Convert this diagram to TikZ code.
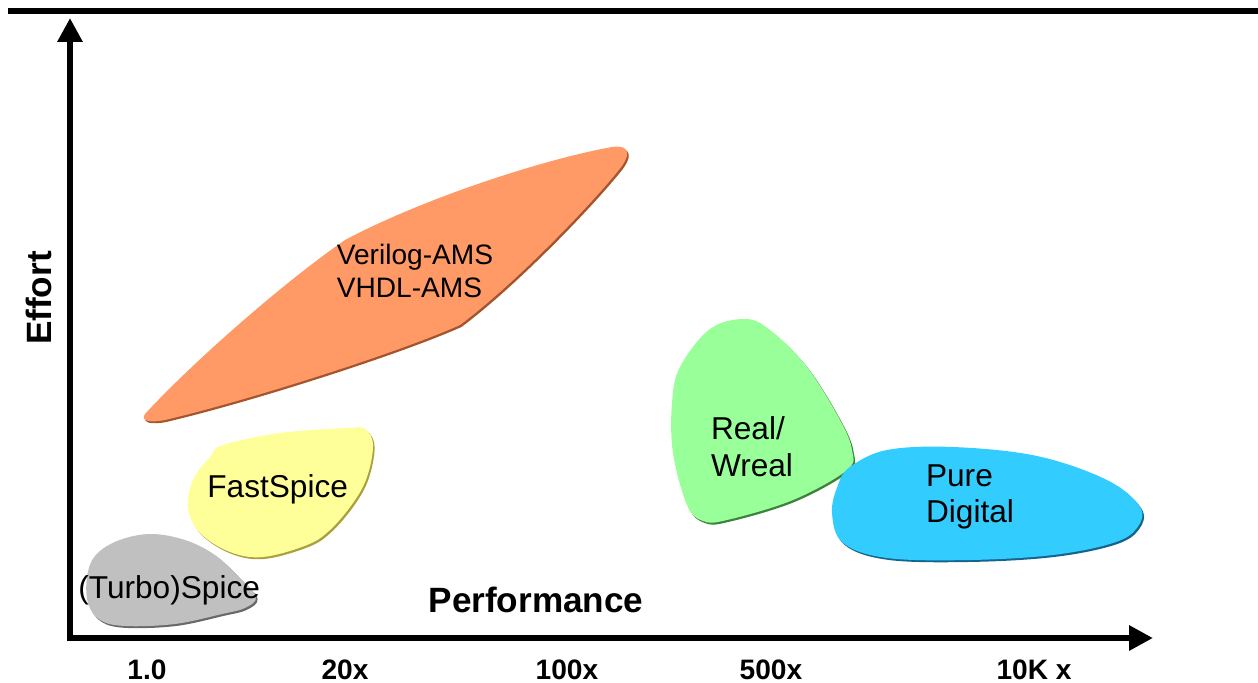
\documentclass[tikz,border=0pt]{standalone}
\usepackage{fontspec}
\setmainfont{Liberation Sans}
\usepackage{tikz}
\usetikzlibrary{arrows.meta, shadows}
\definecolor{vamsfill}{RGB}{255,153,102}
\definecolor{vamsdark}{RGB}{165,85,45}
\definecolor{fastfill}{RGB}{255,255,153}
\definecolor{fastdark}{RGB}{170,160,60}
\definecolor{spicefill}{RGB}{192,192,192}
\definecolor{spicedark}{RGB}{105,105,105}
\definecolor{realfill}{RGB}{153,255,153}
\definecolor{realdark}{RGB}{60,130,60}
\definecolor{digfill}{RGB}{51,204,255}
\definecolor{digdark}{RGB}{20,100,140}
\tikzset{blob/.style={fill=#1fill, drop shadow={shadow xshift=0.9pt, shadow yshift=-1.1pt, opacity=1, fill=#1dark}},
axisline/.style={line width=3.6pt, {Triangle[length=13.6pt,width=13.6pt]}-{Triangle[length=13.6pt,width=13.6pt]}},
blobtext/.style={inner sep=0pt, font=\fontsize{18}{21}\selectfont, align=left},
axislabel/.style={inner sep=0pt, font=\fontsize{20}{24}\selectfont\bfseries},
ticklabel/.style={inner sep=0pt, anchor=base, font=\fontsize{16}{19}\selectfont\bfseries}}

\begin{document}
\begin{tikzpicture}[x=0.02cm, y=-0.02cm]
        \useasboundingbox (0,0) rectangle (1258,683);
        \draw[line width=3.4pt] (8,11) -- (1258,11);

        \coordinate (ytip) at (70,18);
        \coordinate (origin) at (70,638);
        \coordinate (xtip) at (1153,638);
        \draw[axisline] (ytip) -- (origin) -- (xtip);

        \fill[blob=vams] (145,414) .. controls (190,365) and (280,285) .. (345,240) .. controls (420,200) and (540,160) .. (612,147) .. controls (625,145) and (633,150) .. (622,166) .. controls (600,195) and (520,280) .. (460,325) .. controls (400,352) and (250,400) .. (165,420) .. controls (150,423) and (140,421) .. (145,414) -- cycle;
        \fill[blob=spice] plot[smooth cycle, tension=0.6] coordinates {(150,534) (185,540) (215,555) (240,578) (256,597) (245,608) (222,614) (175,624) (125,626) (100,620) (88,603) (87,577) (95,556) (117,541)};
        \fill[blob=fast] plot[smooth cycle, tension=0.6] coordinates {(210,457) (223,445) (280,433) (347,428) (365,429) (373,445) (367,477) (353,503) (330,530) (307,545) (263,557) (230,552) (200,533) (188,508) (193,480)};
        \fill[blob=real] plot[smooth cycle, tension=0.6] coordinates {(745,319) (770,330) (807,367) (840,420) (852,450) (847,470) (793,500) (727,520) (703,521) (687,505) (673,453) (672,403) (680,367) (710,329)};
        \fill[blob=dig] plot[smooth cycle, tension=0.6] coordinates {(832,513) (838,485) (850,467) (887,450) (953,447) (1037,456) (1107,480) (1140,507) (1137,528) (1113,543) (1053,555) (970,560) (887,558) (843,543)};

        \node[blobtext, font=\fontsize{16}{18.7}\selectfont] (vams) at (415,271) {Verilog-AMS\\VHDL-AMS};
        \node[blobtext, anchor=base west] (fast) at (207,497) {FastSpice};
        \node[blobtext, anchor=base west] (spice) at (78,598) {(Turbo)Spice};
        \node[blobtext] (real) at (752,447) {Real/\\Wreal};
        \node[blobtext, font=\fontsize{18}{20.4}\selectfont] (dig) at (970,497) {Pure\\Digital};

        \node[axislabel, rotate=90] (effort) at (39,298) {Effort};
        \node[axislabel, anchor=base] (perf) at (536,612) {Performance};
        \node[ticklabel] (t1) at (147,679) {1.0};
        \node[ticklabel] (t20) at (345,679) {20x};
        \node[ticklabel] (t100) at (567,679) {100x};
        \node[ticklabel] (t500) at (771,679) {500x};
        \node[ticklabel] (t10k) at (1034,679) {10K x};
\end{tikzpicture}
\end{document}
